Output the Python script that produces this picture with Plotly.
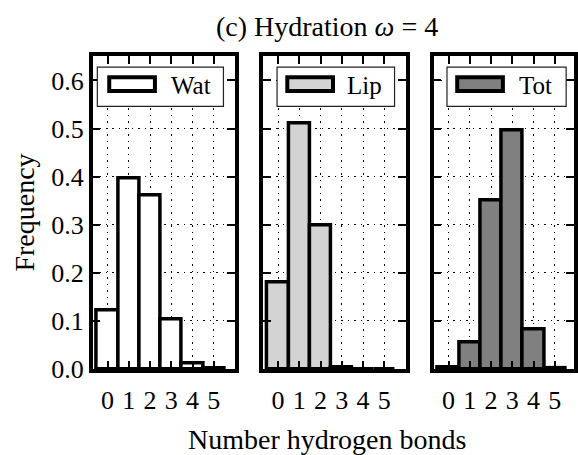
import plotly.graph_objects as go

# ---- data ----
categories = [0, 1, 2, 3, 4, 5]
wat = [0.122, 0.396, 0.362, 0.103, 0.011, 0.001]
lip = [0.181, 0.510, 0.298, 0.004, 0.0005, 0.0005]
tot = [0.003, 0.056, 0.351, 0.497, 0.082, 0.002]
series_names = ["Wat", "Lip", "Tot"]
series_values = [wat, lip, tot]
fill_colors = ["#ffffff", "#d3d3d3", "#808080"]
y_ticks = [0.0, 0.1, 0.2, 0.3, 0.4, 0.5, 0.6]
y_tick_text = ["0.0", "0.1", "0.2", "0.3", "0.4", "0.5", "0.6"]

W, H = 578, 455
FONT = "Liberation Serif"

# panel geometry in pixels (left spine, right spine)
panels_px = [(93.3, 236.7), (265.0, 409.0), (436.7, 578.0)]
x_scale = 143.4 / 6.7          # px per unit on x
x_lo = -0.7
top_px, bot_px = 58.3, 381.7
y_dom = [1 - bot_px / H, 1 - top_px / H]

fig = go.Figure()

axis_common = dict(
    showline=True, linewidth=3.5, linecolor="black", mirror="ticks",
    ticks="inside", ticklen=8, tickwidth=2.2, tickcolor="black",
    showgrid=True, gridcolor="black", gridwidth=1.2, griddash="1.5px,5px",
    zeroline=False, layer="above traces",
    tickfont=dict(family=FONT, size=26, color="black"),
)

for i, (name, vals, col) in enumerate(zip(series_names, series_values, fill_colors)):
    k = "" if i == 0 else str(i + 1)
    fig.add_trace(go.Bar(
        x=categories, y=vals, width=1, name=name,
        marker=dict(color=col, line=dict(color="black", width=3.5)),
        xaxis="x" + k, yaxis="y" + k, showlegend=False,
    ))
    l, r = panels_px[i]
    x_hi = x_lo + (r - l) / x_scale
    fig.layout["xaxis" + k] = dict(
        axis_common, domain=[l / W, r / W], range=[x_lo, x_hi],
        tickvals=categories, ticktext=[str(c) for c in categories],
        anchor="y" + k, ticklabelstandoff=5,
    )
    fig.layout["yaxis" + k] = dict(
        axis_common, domain=y_dom, range=[0, 0.65],
        tickvals=y_ticks, ticktext=y_tick_text,
        showticklabels=(i == 0), anchor="x" + k,
    )

# ---- legends (drawn as boxes) ----
leg_box = [(4.7, 131.7), (14.0, 132.3), (13.4, 133.4)]
leg_sym = [(14.7, 64.7), (22.3, 72.3), (21.7, 71.7)]
text_right = 121.5
box_y = (69.5, 110.0)
sym_y = (78.0, 96.0)
text_y = 88.0

def xd(rel):
    return x_lo + rel / x_scale

def yd(px):
    return 1 - (px - top_px) / (bot_px - top_px)

for i, (name, col) in enumerate(zip(series_names, fill_colors)):
    k = "" if i == 0 else str(i + 1)
    bx0, bx1 = leg_box[i]
    sx0, sx1 = leg_sym[i]
    fig.add_shape(type="rect", xref="x" + k, yref="y" + k + " domain",
                  x0=xd(bx0), x1=xd(bx1), y0=yd(box_y[1]), y1=yd(box_y[0]),
                  fillcolor="white", line=dict(color="#222222", width=1.2),
                  layer="above")
    fig.add_shape(type="rect", xref="x" + k, yref="y" + k + " domain",
                  x0=xd(sx0 + 2), x1=xd(sx1 - 2), y0=yd(sym_y[1] - 2), y1=yd(sym_y[0] + 2),
                  fillcolor=col, line=dict(color="black", width=4),
                  layer="above")
    fig.add_annotation(x=xd(text_right), y=yd(text_y), xref="x" + k,
                       yref="y" + k + " domain", text=name, showarrow=False,
                       xanchor="right", yanchor="middle",
                       font=dict(family=FONT, size=25, color="black"))

# ---- titles ----
fig.add_annotation(x=329 / W, y=1 - 27 / H, xref="paper", yref="paper",
                   text="(c) Hydration <i>ω</i> = 4", showarrow=False,
                   xanchor="center", yanchor="middle",
                   font=dict(family=FONT, size=28, color="black"))
fig.add_annotation(x=329 / W, y=0, xref="paper", yref="paper",
                   text="Number hydrogen bonds", showarrow=False,
                   xanchor="center", yanchor="bottom", yshift=-17,
                   font=dict(family=FONT, size=28, color="black"))
fig.add_annotation(x=25 / W, y=1 - 220 / H, xref="paper", yref="paper",
                   text="Frequency", showarrow=False, textangle=-90,
                   xanchor="center", yanchor="middle",
                   font=dict(family=FONT, size=28, color="black"))

fig.update_layout(
    width=W, height=H, margin=dict(l=0, r=0, t=0, b=0),
    paper_bgcolor="white", plot_bgcolor="white",
    bargap=0, showlegend=False,
)

fig.write_html("out.html")
